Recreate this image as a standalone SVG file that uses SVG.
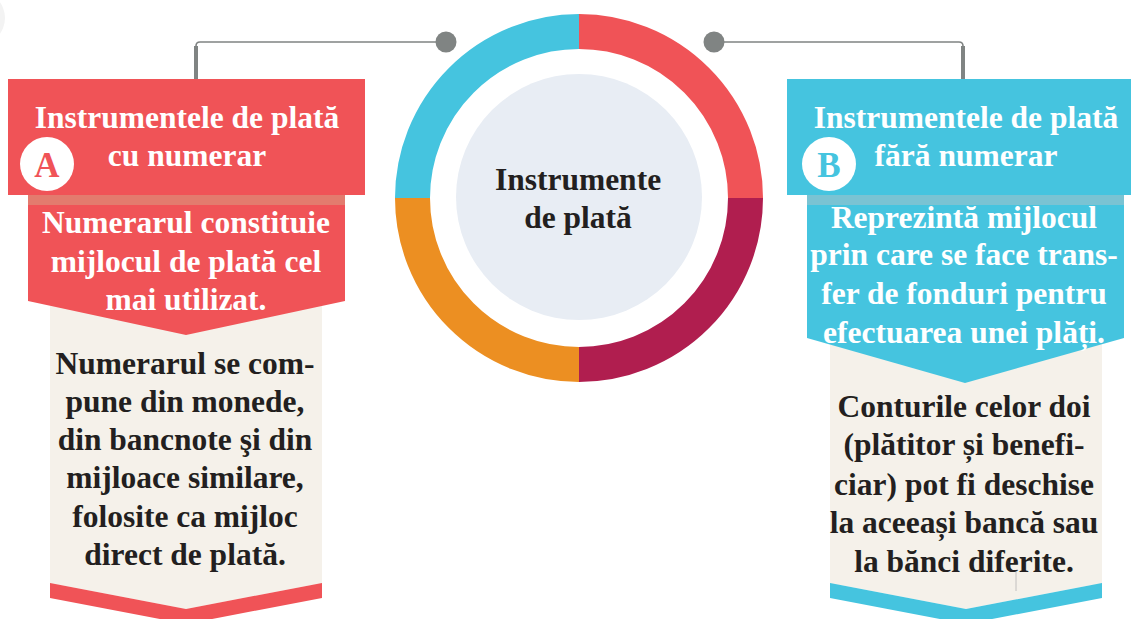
<svg xmlns="http://www.w3.org/2000/svg" width="1131" height="619" viewBox="0 0 1131 619">
<defs>
<style>
.t{font-family:"Liberation Serif","Times New Roman",serif;font-weight:bold;font-size:31.5px;text-anchor:middle}
.badge{font-size:35px}
.w{fill:#ffffff}
.d{fill:#231f20}
.conn{fill:none;stroke:#808483}
.beige{fill:#f5f1ea}
.red{fill:#f05357}
.blue{fill:#45c4df}
.ring{fill:none;stroke-width:35}
</style>
</defs>
<rect width="1131" height="619" fill="#ffffff"/>
<circle cx="-22" cy="18" r="27" fill="#f3f3f3"/>

<g id="connectors">
<path class="conn" d="M196 79 V46 Q196 42 200 42 H446" stroke-width="1.6"/>
<line x1="196" y1="46" x2="196" y2="79" stroke="#808483" stroke-width="4"/>
<circle cx="446" cy="42" r="10.5" fill="#808483"/>
<path class="conn" d="M714 42 H959 Q963 42 963 46 V79" stroke-width="1.6"/>
<line x1="963" y1="46" x2="963" y2="79" stroke="#808483" stroke-width="4"/>
<circle cx="714" cy="42" r="10.5" fill="#808483"/>
</g>

<g id="center">
<path class="ring" stroke="#f05357" d="M579 31.5 A166.5 166.5 0 0 1 745.5 198"/>
<path class="ring" stroke="#b01e4f" d="M745.5 198 A166.5 166.5 0 0 1 579 364.5"/>
<path class="ring" stroke="#ec8f22" d="M579 364.5 A166.5 166.5 0 0 1 412.5 198"/>
<path class="ring" stroke="#45c4df" d="M412.5 198 A166.5 166.5 0 0 1 579 31.5"/>
<circle cx="579" cy="197" r="123" fill="#e8edf4"/>
<text class="t d" x="578" y="190">Instrumente</text>
<text class="t d" x="578" y="228">de plată</text>
</g>

<g id="nodeA">
<rect class="beige" x="50" y="300" width="272" height="285"/>
<path class="beige" d="M50 583 L186 609 L322 583 Z"/>
<path class="red" d="M50 583 L186 609 L322 583 L322 598 L186 624 L50 598 Z"/>
<rect class="red" x="8" y="79" width="357" height="116"/>
<rect x="28" y="195" width="317" height="10" fill="#e37b6e"/>
<path class="red" d="M28 205 H345 V301 L186 335 L28 301 Z"/>
<circle cx="47" cy="164" r="27" fill="#ffffff"/>
<text class="t badge" x="47" y="177" fill="#f05357">A</text>
<text class="t w" x="187" y="128">Instrumentele de plată</text>
<text class="t w" x="187" y="166">cu numerar</text>
<text class="t w" x="186" y="233">Numerarul constituie</text>
<text class="t w" x="186" y="272">mijlocul de plată cel</text>
<text class="t w" x="186" y="310">mai utilizat.</text>
<text class="t d" x="185" y="374">Numerarul se com-</text>
<text class="t d" x="185" y="412">pune din monede,</text>
<text class="t d" x="185" y="450">din bancnote şi din</text>
<text class="t d" x="185" y="488">mijloace similare,</text>
<text class="t d" x="185" y="527">folosite ca mijloc</text>
<text class="t d" x="185" y="565">direct de plată.</text>
</g>

<g id="nodeB">
<rect class="beige" x="830" y="335" width="272" height="250"/>
<path class="beige" d="M830 583 L966 609 L1102 583 Z"/>
<path class="blue" d="M830 583 L966 609 L1102 583 L1102 598 L966 624 L830 598 Z"/>
<line x1="1016" y1="572" x2="1016" y2="591" stroke="#b5b5b5" stroke-width="0.8"/>
<rect class="blue" x="787" y="79" width="344" height="116"/>
<rect x="807" y="195" width="317" height="10" fill="#7ac3d3"/>
<path class="blue" d="M807 205 H1124 V338 L965 383 L807 338 Z"/>
<circle cx="829" cy="164" r="27" fill="#ffffff"/>
<text class="t badge" x="829" y="177" fill="#45c4df">B</text>
<text class="t w" x="966" y="128">Instrumentele de plată</text>
<text class="t w" x="966" y="166">fără numerar</text>
<text class="t w" x="964" y="228">Reprezintă mijlocul</text>
<text class="t w" x="964" y="265">prin care se face trans-</text>
<text class="t w" x="964" y="304">fer de fonduri pentru</text>
<text class="t w" x="964" y="343">efectuarea unei plăți.</text>
<text class="t d" x="964" y="417">Conturile celor doi</text>
<text class="t d" x="964" y="455">(plătitor și benefi-</text>
<text class="t d" x="964" y="495">ciar) pot fi deschise</text>
<text class="t d" x="964" y="533">la aceeași bancă sau</text>
<text class="t d" x="964" y="572">la bănci diferite.</text>
</g>
</svg>
